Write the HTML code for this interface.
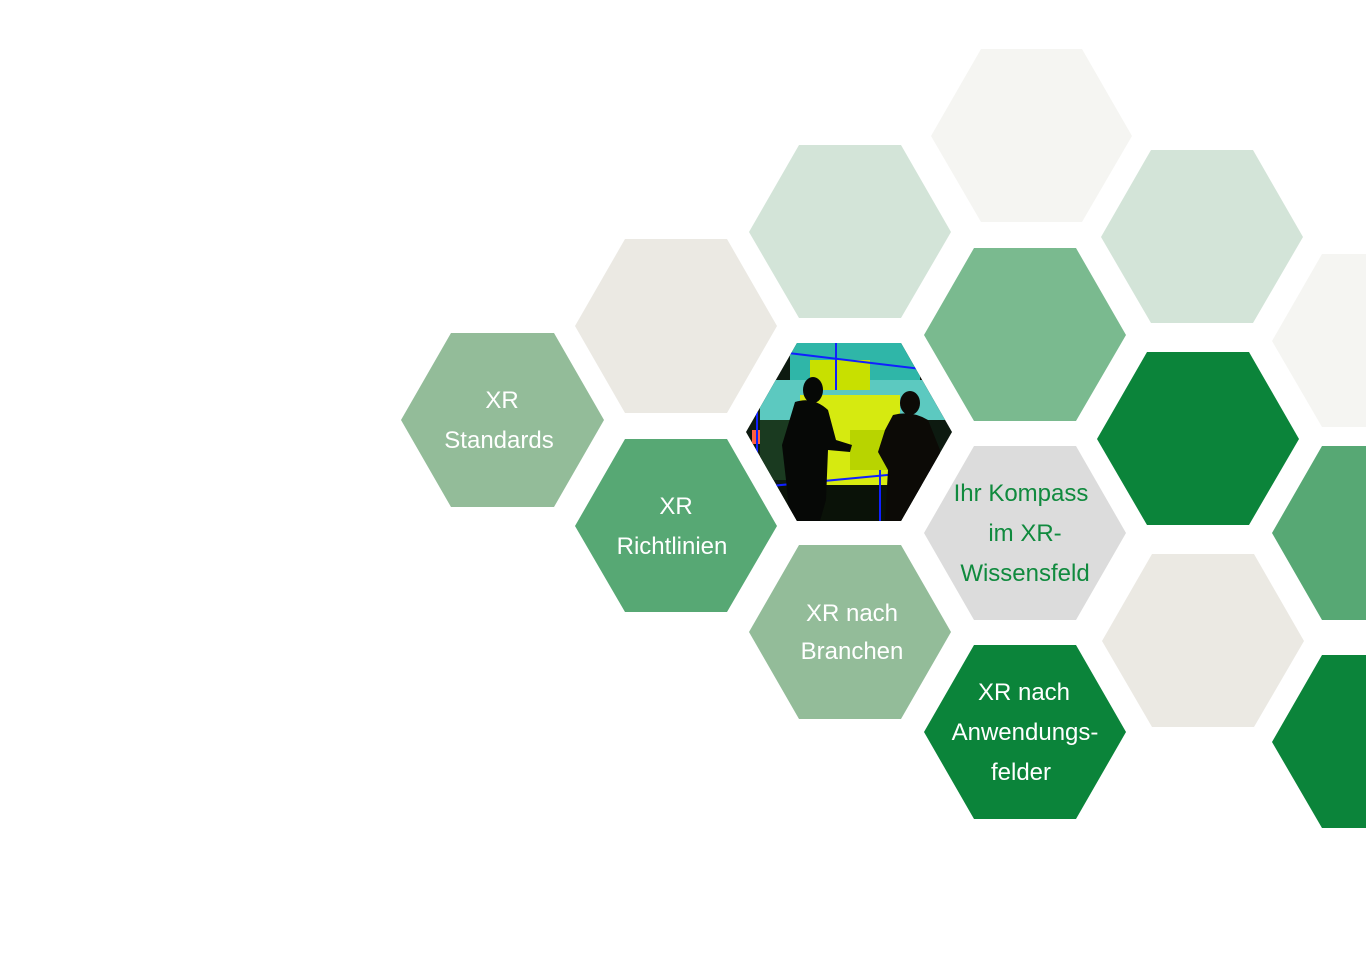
<!DOCTYPE html>
<html><head><meta charset="utf-8"><style>
html,body{margin:0;padding:0;background:#fff;}
svg{display:block;}
text{font-family:"Liberation Sans",sans-serif;font-size:24px;text-anchor:middle;}
</style></head><body>
<svg width="1366" height="954" viewBox="0 0 1366 954" xmlns="http://www.w3.org/2000/svg">
<defs>
<clipPath id="ph"><polygon points="797,343 901,343 952,432 901,521 797,521 746,432"/></clipPath>
</defs>
<polygon points="451,333 554,333 604,420 554,507 451,507 401,420" fill="#93bc99"/>
<polygon points="625,239 727,239 777,326 727,413 625,413 575,326" fill="#ebe9e3"/>
<polygon points="625,439 727,439 777,526 727,612 625,612 575,526" fill="#57a874"/>
<polygon points="799,145 901,145 951,232 901,318 799,318 749,232" fill="#d3e4d8"/>
<polygon points="799,545 901,545 951,632 901,719 799,719 749,632" fill="#93bc99"/>
<polygon points="981,49 1082,49 1132,136 1082,222 981,222 931,136" fill="#f5f5f2"/>
<polygon points="974,248 1076,248 1126,335 1076,421 974,421 924,335" fill="#7aba8f"/>
<polygon points="974,446 1076,446 1126,533 1076,620 974,620 924,533" fill="#dcdcdc"/>
<polygon points="974,645 1076,645 1126,732 1076,819 974,819 924,732" fill="#0b843a"/>
<polygon points="1151,150 1253,150 1303,237 1253,323 1151,323 1101,237" fill="#d3e4d8"/>
<polygon points="1147,352 1249,352 1299,439 1249,525 1147,525 1097,439" fill="#0b843a"/>
<polygon points="1152,554 1254,554 1304,641 1254,727 1152,727 1102,641" fill="#ebe9e3"/>
<polygon points="1322,254 1424,254 1474,341 1424,427 1322,427 1272,341" fill="#f5f5f2"/>
<polygon points="1322,446 1424,446 1474,533 1424,620 1322,620 1272,533" fill="#57a874"/>
<polygon points="1322,655 1424,655 1474,742 1424,828 1322,828 1272,742" fill="#0b843a"/>
<g clip-path="url(#ph)">
<rect x="740" y="340" width="220" height="190" fill="#0d1a10"/>
<rect x="790" y="343" width="130" height="40" fill="#2fb6a8"/>
<rect x="760" y="380" width="190" height="40" fill="#5cc9c0"/>
<rect x="810" y="360" width="60" height="30" fill="#c8e000"/>
<rect x="800" y="395" width="100" height="90" fill="#d6ea10"/>
<rect x="760" y="420" width="40" height="60" fill="#1a3a20"/>
<rect x="850" y="430" width="60" height="40" fill="#b8d400"/>
<rect x="752" y="430" width="8" height="14" fill="#ff6040"/>
<rect x="770" y="485" width="170" height="40" fill="#0a1208"/>
<line x1="780" y1="352" x2="930" y2="370" stroke="#1020ff" stroke-width="2"/>
<line x1="760" y1="487" x2="940" y2="470" stroke="#1020ff" stroke-width="2"/>
<line x1="836" y1="343" x2="836" y2="390" stroke="#1020ff" stroke-width="2"/>
<line x1="880" y1="470" x2="880" y2="521" stroke="#1020ff" stroke-width="2"/>
<line x1="757" y1="410" x2="757" y2="460" stroke="#1020ff" stroke-width="2"/>
<ellipse cx="813" cy="390" rx="10" ry="13" fill="#060806"/>
<path d="M795,402 Q813,396 828,410 L836,440 L852,445 L850,452 L828,450 L826,500 L820,521 L790,521 L786,480 L782,445 Z" fill="#060806"/>
<ellipse cx="910" cy="403" rx="10" ry="12" fill="#0c0a06"/>
<path d="M893,415 Q912,410 928,420 L940,450 L940,521 L885,521 L888,470 L878,452 L885,430 Z" fill="#0c0a06"/>
</g>
<g fill="#ffffff">
<text x="502" y="408">XR</text>
<text x="499" y="448">Standards</text>
<text x="676" y="514">XR</text>
<text x="672" y="554">Richtlinien</text>
<text x="852" y="621">XR nach</text>
<text x="852" y="659">Branchen</text>
<text x="1024" y="700">XR nach</text>
<text x="1025" y="740">Anwendungs-</text>
<text x="1021" y="780">felder</text>
</g>
<g fill="#108a3e">
<text x="1021" y="501">Ihr Kompass</text>
<text x="1025" y="541">im XR-</text>
<text x="1025" y="581">Wissensfeld</text>
</g>
</svg>
</body></html>
